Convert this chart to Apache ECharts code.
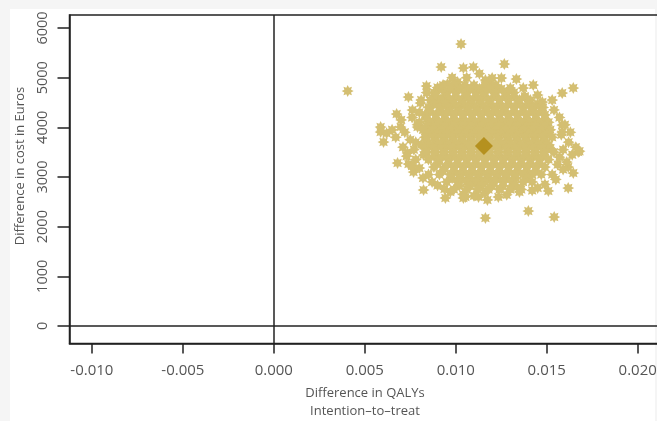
<!DOCTYPE html>
<html>
<head>
<meta charset="utf-8">
<script src="https://cdn.jsdelivr.net/npm/echarts@6/dist/echarts.min.js"></script>
<style>
  html, body { margin: 0; padding: 0; background: #f5f5f5; }
  #wrap { position: relative; width: 657px; height: 421px; overflow: hidden; }
  #panel { position: absolute; left: 10px; top: 9px; width: 645px; height: 412px; background: #ffffff; }
  #chart { position: absolute; left: 0; top: 0; width: 690px; height: 421px; }
</style>
</head>
<body>
<div id="wrap"><div id="panel"></div><div id="chart"></div></div>
<script>
// Tick labels
const xTicks = [-0.010, -0.005, 0.000, 0.005, 0.010, 0.015, 0.020];
const yTicks = [0, 1000, 2000, 3000, 4000, 5000, 6000];

// Point estimate (mean)
const meanPoint = [0.01155, 3625];

// Scattered bootstrap replicates
const outlierPoints = [
  [0.00406, 4731], [0.01029, 5677], [0.0092, 5214], [0.00839, 4831], [0.01042, 5194],
  [0.0074, 4610], [0.00675, 4268], [0.00762, 4348], [0.00806, 4489], [0.00954, 4871],
  [0.0101, 4912], [0.009, 4590], [0.00587, 4006], [0.00697, 4006], [0.0079, 4006],
  [0.01267, 5274], [0.01333, 4972], [0.01426, 4851], [0.01646, 4791], [0.01585, 4690],
  [0.0153, 4549], [0.01476, 4509], [0.01251, 4992], [0.013, 4791], [0.012, 4992],
  [0.01163, 4952], [0.01097, 5214], [0.01371, 4791], [0.01399, 4449], [0.01585, 4046],
  [0.00603, 3704], [0.0068, 3281], [0.00735, 3482], [0.0074, 3261], [0.00768, 3100],
  [0.00823, 2738], [0.00938, 2758], [0.00943, 2577], [0.00587, 3905], [0.01042, 2577],
  [0.00823, 3442], [0.01163, 2174], [0.01399, 2315], [0.01541, 2194], [0.01509, 2718],
  [0.01618, 2778], [0.01646, 3080], [0.01673, 3503], [0.01618, 3201], [0.01234, 2597],
  [0.01174, 2537], [0.01125, 2597], [0.01053, 2597], [0.01327, 2838], [0.01585, 3905]
];

// Ragged edge of the cloud
const edgePoints = [
  [0.0070, 4150], [0.0065, 3950], [0.0072, 3900], [0.0067, 3800], [0.0075, 3750],
  [0.0071, 3600], [0.0077, 3550], [0.0073, 3420], [0.0078, 3350], [0.0076, 3220],
  [0.0080, 3180], [0.0079, 4050], [0.0076, 4200], [0.0080, 4300], [0.0078, 3700],
  [0.0062, 3880], [0.0082, 2980], [0.0087, 2900], [0.0085, 3050], [0.0090, 2830],
  [0.0157, 4200], [0.0160, 4050], [0.0163, 3900], [0.0158, 3850], [0.0162, 3700],
  [0.0166, 3600], [0.0159, 3550], [0.0164, 3450], [0.0157, 3400], [0.0161, 3300],
  [0.0156, 3250], [0.0159, 3150], [0.0153, 3050], [0.0155, 2950], [0.0149, 2850],
  [0.0154, 4350], [0.0168, 3520],
  [0.0098, 5000], [0.0106, 5000], [0.0113, 5080], [0.0119, 4900], [0.0132, 4700],
  [0.0138, 4600], [0.0145, 4650], [0.0084, 4700], [0.0081, 4550], [0.0090, 4800],
  [0.0104, 2650], [0.0110, 2620], [0.0128, 2640], [0.0135, 2700], [0.0142, 2730],
  [0.0097, 2700], [0.0145, 2780], [0.0116, 2680]
];

// Dense core of the cloud: cost level of each row and the QALY values along it
const coreCost = [4850, 4775, 4700, 4625, 4550, 4475, 4400, 4325, 4250, 4175, 4100, 4025,
  3950, 3875, 3800, 3725, 3650, 3575, 3500, 3425, 3350, 3275, 3200, 3125, 3050, 2975, 2900, 2825, 2750];
const coreQaly = [
  [0.0093, 0.0099, 0.0105, 0.0110, 0.0116, 0.0122],
  [0.0091, 0.0097, 0.0102, 0.0108, 0.0113, 0.0119, 0.0125],
  [0.0088, 0.0094, 0.0100, 0.0105, 0.0111, 0.0116, 0.0122, 0.0128],
  [0.0089, 0.0095, 0.0100, 0.0106, 0.0111, 0.0115, 0.0121, 0.0127, 0.0132, 0.0138],
  [0.0086, 0.0092, 0.0097, 0.0103, 0.0108, 0.0113, 0.0118, 0.0124, 0.0129, 0.0135, 0.0141],
  [0.0088, 0.0094, 0.0099, 0.0104, 0.0109, 0.0114, 0.0119, 0.0124, 0.0129, 0.0134, 0.0140, 0.0145],
  [0.0085, 0.0091, 0.0096, 0.0101, 0.0106, 0.0111, 0.0116, 0.0121, 0.0126, 0.0132, 0.0137, 0.0143, 0.0148],
  [0.0086, 0.0092, 0.0097, 0.0102, 0.0107, 0.0112, 0.0117, 0.0122, 0.0127, 0.0132, 0.0137, 0.0142, 0.0147],
  [0.0083, 0.0089, 0.0094, 0.0099, 0.0104, 0.0109, 0.0114, 0.0119, 0.0124, 0.0129, 0.0134, 0.0139, 0.0144, 0.0149],
  [0.0084, 0.0089, 0.0094, 0.0099, 0.0104, 0.0109, 0.0114, 0.0119, 0.0124, 0.0129, 0.0134, 0.0139, 0.0144, 0.0149],
  [0.0080, 0.0086, 0.0091, 0.0096, 0.0101, 0.0106, 0.0111, 0.0116, 0.0121, 0.0126, 0.0131, 0.0136, 0.0141, 0.0146, 0.0151],
  [0.0084, 0.0089, 0.0094, 0.0099, 0.0104, 0.0109, 0.0114, 0.0119, 0.0124, 0.0129, 0.0134, 0.0139, 0.0144, 0.0149],
  [0.0082, 0.0087, 0.0092, 0.0097, 0.0102, 0.0107, 0.0112, 0.0117, 0.0122, 0.0127, 0.0132, 0.0137, 0.0142, 0.0147, 0.0152],
  [0.0085, 0.0090, 0.0095, 0.0100, 0.0105, 0.0110, 0.0115, 0.0120, 0.0125, 0.0130, 0.0135, 0.0140, 0.0145, 0.0150],
  [0.0083, 0.0088, 0.0093, 0.0098, 0.0103, 0.0108, 0.0113, 0.0118, 0.0123, 0.0128, 0.0133, 0.0138, 0.0143, 0.0148, 0.0153],
  [0.0084, 0.0089, 0.0094, 0.0099, 0.0104, 0.0109, 0.0114, 0.0119, 0.0124, 0.0129, 0.0134, 0.0139, 0.0144, 0.0149],
  [0.0081, 0.0086, 0.0091, 0.0096, 0.0101, 0.0106, 0.0111, 0.0116, 0.0121, 0.0126, 0.0131, 0.0136, 0.0141, 0.0146, 0.0151],
  [0.0083, 0.0088, 0.0093, 0.0098, 0.0103, 0.0108, 0.0113, 0.0118, 0.0123, 0.0128, 0.0133, 0.0138, 0.0143, 0.0148, 0.0152],
  [0.0084, 0.0089, 0.0094, 0.0099, 0.0104, 0.0109, 0.0114, 0.0119, 0.0124, 0.0129, 0.0134, 0.0139, 0.0144, 0.0149, 0.0154],
  [0.0088, 0.0093, 0.0098, 0.0103, 0.0108, 0.0113, 0.0118, 0.0123, 0.0128, 0.0133, 0.0138, 0.0143, 0.0148],
  [0.0085, 0.0091, 0.0096, 0.0101, 0.0106, 0.0111, 0.0116, 0.0121, 0.0126, 0.0131, 0.0136, 0.0141, 0.0146, 0.0151],
  [0.0090, 0.0096, 0.0101, 0.0106, 0.0111, 0.0116, 0.0121, 0.0126, 0.0131, 0.0136, 0.0141, 0.0146],
  [0.0088, 0.0094, 0.0099, 0.0104, 0.0109, 0.0114, 0.0119, 0.0124, 0.0129, 0.0134, 0.0139, 0.0144, 0.0149],
  [0.0093, 0.0099, 0.0104, 0.0109, 0.0114, 0.0119, 0.0124, 0.0129, 0.0134, 0.0139, 0.0144],
  [0.0091, 0.0097, 0.0102, 0.0107, 0.0112, 0.0117, 0.0122, 0.0127, 0.0132, 0.0137, 0.0142, 0.0147],
  [0.0098, 0.0103, 0.0108, 0.0113, 0.0118, 0.0123, 0.0128, 0.0133, 0.0139],
  [0.0095, 0.0101, 0.0106, 0.0111, 0.0116, 0.0121, 0.0126, 0.0131, 0.0137, 0.0142],
  [0.0102, 0.0108, 0.0114, 0.0120, 0.0126, 0.0132],
  [0.0099, 0.0106, 0.0112, 0.0118, 0.0124, 0.0130, 0.0136]
];

const corePoints = [];
coreCost.forEach((c, i) => coreQaly[i].forEach(q => corePoints.push([q, c])));
const cloud = outlierPoints.concat(edgePoints, corePoints);

const STAR = 'path://M20,10L15.54,12.3L17.07,17.07L12.3,15.54L10,20L7.7,15.54L2.93,17.07L4.46,12.3L0,10L4.46,7.7L2.93,2.93L7.7,4.46L10,0L12.3,4.46L17.07,2.93L15.54,7.7Z';
const FONT = '"Open Sans", "Noto Sans", sans-serif';
const AXIS = '#222222';
const TXT = '#555555';

const chart = echarts.init(document.getElementById('chart'), null, { renderer: 'canvas' });
chart.setOption({
  animation: false,
  backgroundColor: 'transparent',
  grid: {
    left: 69.5, top: 15, right: 25, bottom: 77.5,
    show: true, borderColor: AXIS, borderWidth: 1.5, backgroundColor: 'transparent'
  },
  xAxis: {
    type: 'value', min: -0.01123, max: 0.0215,
    axisLine: { show: true, onZero: false, lineStyle: { color: AXIS, width: 1.5 } },
    axisTick: { show: true, customValues: xTicks, length: 10, lineStyle: { color: AXIS, width: 1.5 } },
    axisLabel: {
      customValues: xTicks, margin: 20, color: TXT, fontFamily: FONT, fontSize: 15,
      formatter: v => v.toFixed(3)
    },
    splitLine: { show: false }
  },
  yAxis: {
    type: 'value', min: -353, max: 6262,
    axisLine: { show: true, onZero: false, lineStyle: { color: AXIS, width: 1.5 } },
    axisTick: { show: true, customValues: yTicks, length: 12, lineStyle: { color: AXIS, width: 1.5 } },
    axisLabel: {
      customValues: yTicks, margin: 19, rotate: 90, color: TXT, fontFamily: FONT, fontSize: 14.5,
      formatter: v => String(v)
    },
    splitLine: { show: false }
  },
  graphic: [
    { type: 'text', x: 20, y: 166, rotation: Math.PI / 2, silent: true,
      style: { text: 'Difference in cost in Euros', font: '13px ' + FONT, fill: TXT, textAlign: 'center', textVerticalAlign: 'middle' } },
    { type: 'text', x: 365, y: 393, silent: true,
      style: { text: 'Difference in QALYs', font: '13px ' + FONT, fill: TXT, textAlign: 'center', textVerticalAlign: 'middle' } },
    { type: 'text', x: 365, y: 411.5, silent: true,
      style: { text: 'Intention\u2013to\u2013treat', font: '13px ' + FONT, fill: TXT, textAlign: 'center', textVerticalAlign: 'middle' } }
  ],
  series: [
    {
      type: 'scatter', data: cloud, symbol: STAR, symbolSize: 12, silent: true,
      itemStyle: { color: '#d4bf72', opacity: 1 },
      markLine: {
        silent: true, symbol: 'none', label: { show: false },
        lineStyle: { color: AXIS, width: 1.5, type: 'solid' },
        data: [{ xAxis: 0 }, { yAxis: 0 }]
      }
    },
    {
      type: 'scatter', data: [meanPoint], symbol: 'diamond', symbolSize: 18, silent: true,
      itemStyle: { color: '#b5911f', opacity: 1 }, z: 5
    }
  ]
});
</script>
</body>
</html>
